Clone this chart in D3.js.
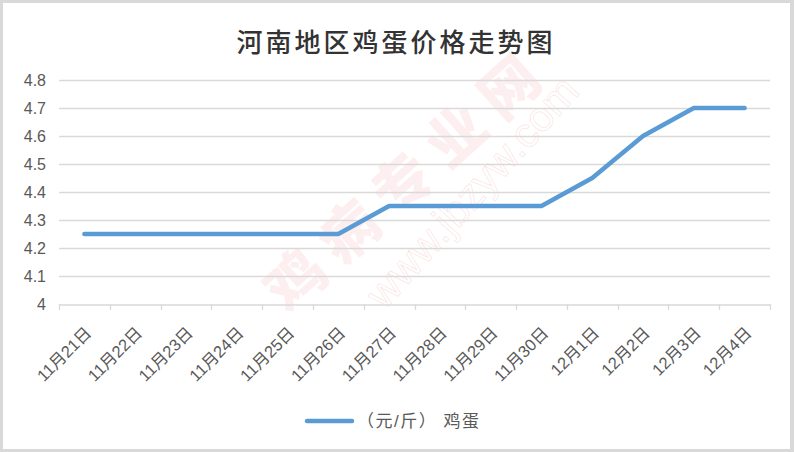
<!DOCTYPE html>
<html><head><meta charset="utf-8">
<script src="https://cdn.jsdelivr.net/npm/d3@7/dist/d3.min.js"></script>
<style>body{margin:0;background:#fff}svg{display:block}</style>
</head><body>
<script>
const title = "河南地区鸡蛋价格走势图";
const categories = ["11月21日","11月22日","11月23日","11月24日","11月25日","11月26日","11月27日","11月28日","11月29日","11月30日","12月1日","12月2日","12月3日","12月4日"];
const eggPrice = [4.25,4.25,4.25,4.25,4.25,4.25,4.35,4.35,4.35,4.35,4.45,4.6,4.7,4.7];
const yTicks = [4,4.1,4.2,4.3,4.4,4.5,4.6,4.7,4.8];
const seriesName = "（元/斤） 鸡蛋";

const W = 794, H = 452;
const svg = d3.select("body").append("svg").attr("width", W).attr("height", H);
svg.append("rect").attr("width", W).attr("height", H).attr("fill", "#d9d9d9");
svg.append("rect").attr("x", 3).attr("y", 3).attr("width", 787).attr("height", 446).attr("fill", "#fff");

const font = "'Liberation Sans','Noto Sans CJK SC',sans-serif";
const m = {left: 59, right: 770, top: 80, bottom: 304};
const x = d3.scaleBand().domain(categories).range([m.left, m.right]);
const y = d3.scaleLinear().domain([4, 4.8]).range([m.bottom, m.top]);

// watermark
const wm = svg.append("g").attr("pointer-events", "none");
wm.append("text").attr("transform", "translate(405,176) rotate(-42)")
  .attr("text-anchor", "middle").attr("dominant-baseline", "central")
  .attr("font-family", "'Noto Sans CJK SC'").attr("font-weight", 900)
  .attr("font-size", 58).attr("letter-spacing", 14)
  .attr("fill", "#e53935").attr("fill-opacity", 0.08).text("鸡病专业网");
wm.append("text").attr("transform", "translate(472,192) rotate(-48)")
  .attr("text-anchor", "middle").attr("dominant-baseline", "central")
  .attr("font-family", "'Liberation Sans'").attr("font-size", 42)
  .attr("fill", "none").attr("stroke", "#e53935").attr("stroke-opacity", 0.12).attr("stroke-width", 1)
  .text("www.jbzyw.com");

// title
svg.append("text").attr("x", 396).attr("y", 40).attr("text-anchor", "middle")
  .attr("dominant-baseline", "central")
  .attr("font-family", "'Noto Sans CJK SC'").attr("font-size", 26).attr("letter-spacing", 3)
  .attr("font-weight", 500).attr("fill", "#333").text(title);

// grid
svg.append("g").selectAll("line").data(yTicks.filter(d => d !== 4)).join("line")
  .attr("x1", m.left).attr("x2", m.right)
  .attr("y1", d => Math.round(y(d)) + 0.5).attr("y2", d => Math.round(y(d)) + 0.5)
  .attr("stroke", "#d9d9d9").attr("stroke-width", 1.3);

// y axis labels
const yAxis = d3.axisLeft(y).tickValues(yTicks).tickSize(0).tickPadding(13).tickFormat(d => String(d));
const gy = svg.append("g").attr("transform", `translate(${m.left},0)`).call(yAxis);
gy.select(".domain").remove();
gy.selectAll("text").attr("font-family", font).attr("font-size", 16).attr("fill", "#595959");

// x axis
const xAxis = d3.axisBottom(x).tickSize(0).tickFormat("");
const gx = svg.append("g").attr("transform", `translate(0,${m.bottom + 0.5})`).call(xAxis);
gx.select(".domain").attr("stroke", "#d9d9d9").attr("stroke-width", 1.3);
gx.selectAll(".tick").remove();
const bounds = categories.map(c => x(c)).concat([m.right]);
svg.append("g").selectAll("line").data(bounds).join("line")
  .attr("x1", d => Math.round(d) + 0.5).attr("x2", d => Math.round(d) + 0.5)
  .attr("y1", m.bottom).attr("y2", m.bottom + 6)
  .attr("stroke", "#d9d9d9").attr("stroke-width", 1.3);
svg.append("g").selectAll("text").data(categories).join("text")
  .attr("transform", d => `translate(${x(d) + x.bandwidth() / 2 + 8},334) rotate(-45)`)
  .attr("text-anchor", "end")
  .attr("font-family", font).attr("font-size", 16.5).attr("fill", "#595959")
  .text(d => d);

// line
const line = d3.line().x((d, i) => x(categories[i]) + x.bandwidth() / 2).y(d => y(d));
svg.append("path").datum(eggPrice).attr("d", line)
  .attr("fill", "none").attr("stroke", "#5b9bd5").attr("stroke-width", 4.5)
  .attr("stroke-linecap", "round").attr("stroke-linejoin", "round");

// legend
svg.append("line").attr("x1", 307).attr("x2", 352).attr("y1", 421).attr("y2", 421)
  .attr("stroke", "#5b9bd5").attr("stroke-width", 4.5).attr("stroke-linecap", "round");
svg.append("text").attr("x", 357).attr("y", 421).attr("dominant-baseline", "central")
  .attr("font-family", font).attr("font-size", 17).attr("letter-spacing", 1.5)
  .attr("fill", "#595959").text(seriesName);
</script>
</body></html>
